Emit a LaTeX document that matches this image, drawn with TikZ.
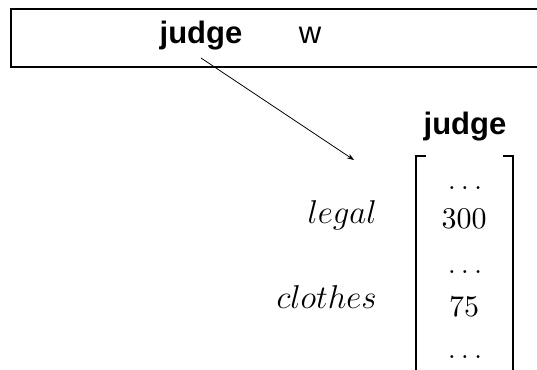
\RequirePackage{fix-cm}
\documentclass[tikz,border=0pt]{standalone}
\usepackage{fontspec}
\newfontfamily\hv{Liberation Sans}
\newfontfamily\lmten[Extension=.otf]{lmroman10-regular}
\usetikzlibrary{arrows.meta}
\tikzset{
  boldword/.style={inner sep=0pt, anchor=base, font=\hv\bfseries\fontsize{31}{31}\selectfont},
  plainword/.style={inner sep=0pt, anchor=base, font=\hv\fontsize{31}{31}\selectfont},
  entry/.style={inner sep=0pt, anchor=base, font=\lmten\fontsize{30}{30}\selectfont},
  rowlabel/.style={inner sep=0pt, anchor=base east, font=\fontsize{33}{33}\selectfont},
  frame/.style={line width=2pt},
  link/.style={line width=0.7pt, -{Stealth[length=7pt,width=5pt]}}
}
\begin{document}
\begin{tikzpicture}[x=1pt,y=-1pt]
\useasboundingbox (0,0) rectangle (537,369);
\clip (0,0) rectangle (537,369);
% top box
\draw[frame] (545,9) -- (11,9) -- (11,67) -- (545,67);
\node[boldword] (word) at (201,44) {judge};
\node[plainword] (w) at (310,44) {w};
% vector header
\node[boldword] (vhead) at (465,134) {judge};
% brackets
\draw[frame] (426,156) -- (416,156) -- (416,380);
\draw[frame] (503,156) -- (513,156) -- (513,380);
% entries
\node[entry] (d1) at (465,189) {$\ldots$};
\node[entry] (v300) at (464,228) {300};
\node[entry] (d2) at (465,273) {$\ldots$};
\node[entry] (v75) at (464,316) {75};
\node[entry] (d3) at (465,358) {$\ldots$};
% labels
\node[rowlabel] (legal) at (377,223) {$legal$};
\node[rowlabel] (clothes) at (377,308) {$clothes$};
% arrow
\coordinate (from) at (201,58);
\coordinate (to) at (354,160);
\draw[link] (from) -- (to);
\end{tikzpicture}
\end{document}
